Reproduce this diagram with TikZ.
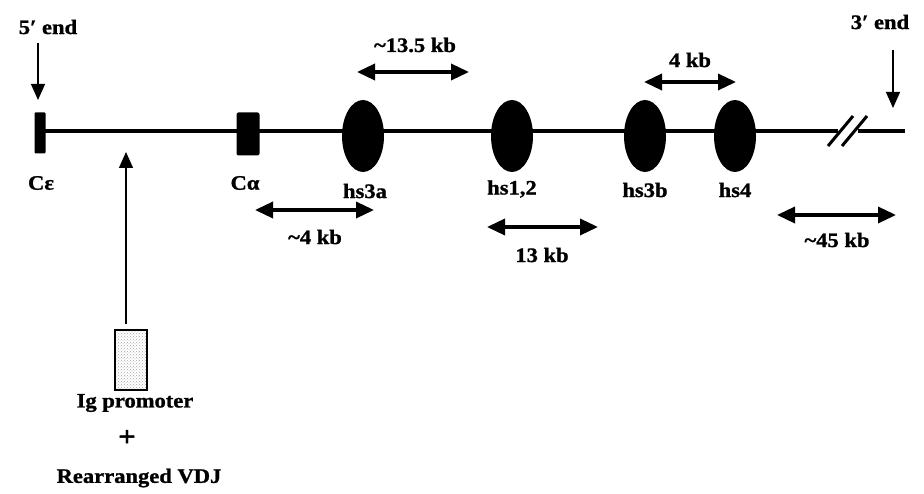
\documentclass[tikz,border=0pt]{standalone}
\usepackage{fontspec}
\setmainfont{Liberation Serif}[BoldFeatures={FakeStretch=1.1,FakeBold=1.2}]
\usetikzlibrary{arrows.meta,patterns,shapes.geometric}
\begin{document}
\begin{tikzpicture}[x=1pt,y=-1pt,
  lbl/.style={font=\fontsize{20.5}{24}\selectfont\bfseries, inner sep=0pt},
  hs/.style={ellipse, fill=black, minimum width=42pt, minimum height=72pt, inner sep=0pt},
  dbl/.style={line width=3.5pt, {Triangle[length=18pt,width=16pt]}-{Triangle[length=18pt,width=16pt]}},
  sgl/.style={line width=1.3pt, -{Triangle[length=16pt,width=14pt]}},
]
\useasboundingbox (0,0) rectangle (924,494);
% main line
\coordinate (L0) at (40,131);
\coordinate (L1) at (905,131);
\draw[line width=3.5pt] (L0) -- (L1);
% genes
\node[fill=black, minimum width=11pt, minimum height=41pt, inner sep=0pt, rounded corners=1pt] (ce) at (40,133) {};
\node[fill=black, minimum width=23pt, minimum height=43pt, inner sep=0pt, rounded corners=2pt] (ca) at (248,134) {};
\node[hs] (h3a) at (363,136) {};
\node[hs] (h12) at (512,136) {};
\node[hs] (h3b) at (645,136) {};
\node[hs] (h4) at (735,136) {};
% break marks
\fill[white] (838,124) rectangle (858,138);
\draw[line width=3pt] (828,146) -- (853,116);
\draw[line width=3pt] (842,146) -- (867,116);
% labels of genes
\node[lbl] (lce) at (41,183) {Cε};
\node[lbl] (lca) at (245,183) {Cα};
\node[lbl] (l3a) at (365,191) {hs3a};
\node[lbl] (l12) at (512,189) {hs1,2};
\node[lbl] (l3b) at (645,190) {hs3b};
\node[lbl] (l4) at (735,190) {hs4};
% ends
\node[lbl] (e5) at (48,27) {5′ end};
\node[lbl] (e3) at (880,22) {3′ end};
\coordinate (e5t) at (38,100);
\coordinate (e3t) at (893,108);
\draw[sgl] (38,43) -- (e5t);
\draw[sgl] (893,50) -- (e3t);
% distance arrows
\draw[dbl] (357,72) -- (469,72);
\node[lbl] (d135) at (415,45) {\textasciitilde{}13.5 kb};
\draw[dbl] (644,82) -- (736,82);
\node[lbl] (d4b) at (690,60) {4 kb};
\draw[dbl] (255,210) -- (374,210);
\node[lbl] (d4) at (315,237) {\textasciitilde{}4 kb};
\draw[dbl] (487,227) -- (598,227);
\node[lbl] (d13) at (542,255) {13 kb};
\draw[dbl] (777,215) -- (896,215);
\node[lbl] (d45) at (837,240) {\textasciitilde{}45 kb};
% promoter
\node[draw, line width=1.5pt, minimum width=32pt, minimum height=60pt, inner sep=0pt, pattern=crosshatch dots, pattern color=gray!70] (pr) at (131,360) {};
\coordinate (prt) at (126,152);
\draw[sgl] (126,324) -- (prt);
\node[lbl] (lpr) at (135,403) {Ig promoter};
\node[lbl, font=\fontsize{28}{30}\selectfont\bfseries] (plus) at (127,438) {+};
\node[lbl, font=\fontsize{20.5}{24}\selectfont\bfseries\addfontfeature{FakeStretch=1.0}] (vdj) at (139,478) {Rearranged VDJ};
\end{tikzpicture}
\end{document}
